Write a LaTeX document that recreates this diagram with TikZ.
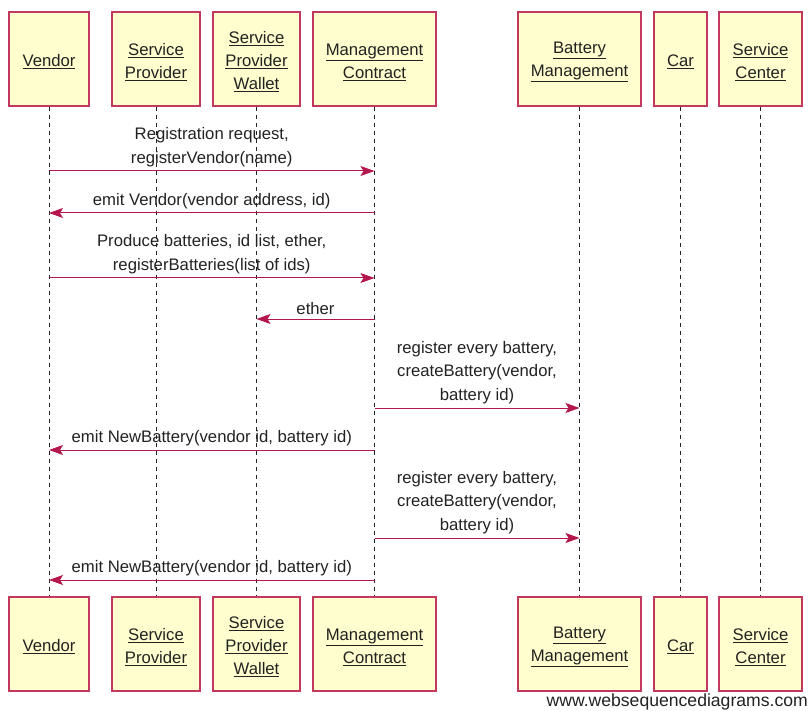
\documentclass[tikz,border=0pt]{standalone}
\usepackage{fontspec}
\setmainfont{Liberation Sans}
\usetikzlibrary{arrows.meta}
\definecolor{boxfill}{HTML}{FEFECE}
\definecolor{boxline}{HTML}{C3385E}
\definecolor{msgline}{HTML}{B3174C}
\definecolor{txt}{HTML}{222222}
\begin{document}
\begin{tikzpicture}[x=1pt,y=-1pt,
  actor/.style={draw=boxline,fill=boxfill,line width=1.2pt,minimum height=94pt,inner sep=0pt},
  actorname/.style={align=center,text=txt,inner sep=0pt,
    font=\fontsize{16.7}{23}\selectfont},
  life/.style={draw=txt,line width=0.8pt,dash pattern=on 4pt off 4pt},
  msg/.style={draw=msgline,line width=1pt,-{Stealth[length=14pt,width=10pt,inset=3pt]}},
  lbl/.style={text=txt,align=center,font=\fontsize{16.7}{23.3}\selectfont,inner sep=0pt}]
\useasboundingbox (0,0) rectangle (811,711);
% participants, top row and bottom row
\foreach \n/\xa/\xb/\t in {
  ven/9/89/{\underline{Vendor}},
  sp/112/200/{\underline{Service}\\\underline{Provider}},
  spw/213/300/{\underline{Service}\\\underline{Provider}\\\underline{Wallet}},
  mc/313/436/{\underline{Management}\\\underline{Contract}},
  bm/518/641/{\underline{Battery}\\\underline{Management}},
  car/654/707/{\underline{Car}},
  sc/719/802/{\underline{Service}\\\underline{Center}}}{
  \node[actor,minimum width={\xb-\xa}] (\n t) at ({(\xa+\xb)/2},59) {};
  \node[actorname] (\n tn) at ([yshift=-3pt]\n t.center) {\t};
  \node[actor,minimum width={\xb-\xa}] (\n b) at ({(\xa+\xb)/2},644) {};
  \node[actorname] (\n bn) at ([yshift=-3pt]\n b.center) {\t};
  \draw[life] (\n t.south) -- (\n b.north);
}
% message anchors on the lifelines
\foreach \n in {ven,sp,spw,mc,bm}{
  \foreach \k/\y in {1/171,2/213,3/278,4/319,5/408,6/450,7/538,8/580}{
    \coordinate (\n\k) at (\n t.south |- 0,\y);
  }
}
% messages
\draw[msg] (ven1) -- (mc1) node[lbl,midway,above=4pt] {Registration request,\\registerVendor(name)};
\draw[msg] (mc2) -- (ven2) node[lbl,midway,above=4pt] {emit Vendor(vendor address, id)};
\draw[msg] (ven3) -- (mc3) node[lbl,midway,above=4pt] {Produce batteries, id list, ether,\\registerBatteries(list of ids)};
\draw[msg] (mc4) -- (spw4) node[lbl,midway,above=4pt] {ether};
\draw[msg] (mc5) -- (bm5) node[lbl,midway,above=4pt] {register every battery,\\createBattery(vendor,\\battery id)};
\draw[msg] (mc6) -- (ven6) node[lbl,midway,above=4pt] {emit NewBattery(vendor id, battery id)};
\draw[msg] (mc7) -- (bm7) node[lbl,midway,above=4pt] {register every battery,\\createBattery(vendor,\\battery id)};
\draw[msg] (mc8) -- (ven8) node[lbl,midway,above=4pt] {emit NewBattery(vendor id, battery id)};
% footer
\node[text=txt,font=\fontsize{17.6}{20}\selectfont,anchor=base east,inner sep=0pt] (wm) at (808,706) {www.websequencediagrams.com};
\end{tikzpicture}
\end{document}
